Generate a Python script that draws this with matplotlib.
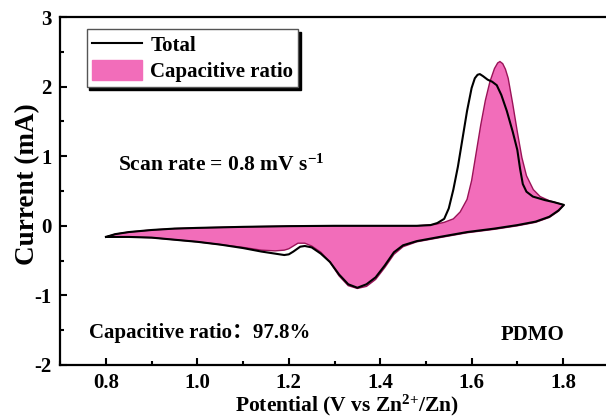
"""
CV curve of PDMO at 0.8 mV/s: total current vs capacitive contribution.
"""

import matplotlib
matplotlib.use("Agg")
import matplotlib.pyplot as plt
from matplotlib.lines import Line2D
from matplotlib.patches import Patch
from matplotlib.ticker import MultipleLocator

plt.rcParams["font.family"] = ["Liberation Serif", "Noto Sans CJK SC"]
plt.rcParams["font.weight"] = "bold"
plt.rcParams["axes.labelweight"] = "bold"
plt.rcParams["axes.unicode_minus"] = False
plt.rcParams["mathtext.fontset"] = "custom"
plt.rcParams["mathtext.rm"] = "Liberation Serif:bold"
plt.rcParams["mathtext.it"] = "Liberation Serif:bold"
plt.rcParams["mathtext.bf"] = "Liberation Serif:bold"

x_ticks = [0.8, 1.0, 1.2, 1.4, 1.6, 1.8]
x_tick_labels = ["0.8", "1.0", "1.2", "1.4", "1.6", "1.8"]
y_ticks = [-2, -1, 0, 1, 2, 3]
y_tick_labels = ["-2", "-1", "0", "1", "2", "3"]

# total current, anodic sweep (0.8 -> 1.8 V)
total_up_v = [0.80, 0.82, 0.85, 0.90, 0.95, 1.00, 1.10, 1.20, 1.30, 1.40, 1.48, 1.51,
              1.525, 1.54, 1.55, 1.56, 1.57, 1.58, 1.59, 1.60, 1.607, 1.613, 1.618,
              1.625, 1.635, 1.645, 1.655, 1.665, 1.677, 1.69, 1.70, 1.706, 1.712,
              1.72, 1.734, 1.76, 1.78, 1.802]
total_up_i = [-0.16, -0.12, -0.09, -0.06, -0.04, -0.03, -0.015, -0.005, 0.0, 0.0, 0.0, 0.01,
              0.04, 0.10, 0.25, 0.52, 0.85, 1.25, 1.65, 1.98, 2.12, 2.17, 2.18,
              2.15, 2.10, 2.07, 2.02, 1.88, 1.65, 1.35, 1.09, 0.82, 0.60,
              0.49, 0.42, 0.37, 0.34, 0.30]
# total current, cathodic sweep (1.8 -> 0.8 V)
total_dn_v = [1.802, 1.79, 1.77, 1.74, 1.70, 1.65, 1.59, 1.53, 1.48, 1.45, 1.43, 1.41,
              1.39, 1.37, 1.35, 1.33, 1.31, 1.29, 1.27, 1.25, 1.235, 1.225, 1.21,
              1.20, 1.19, 1.17, 1.14, 1.10, 1.05, 1.00, 0.95, 0.90, 0.85, 0.80]
total_dn_i = [0.30, 0.22, 0.13, 0.06, 0.01, -0.04, -0.09, -0.16, -0.22, -0.28, -0.38, -0.57,
              -0.74, -0.84, -0.89, -0.84, -0.70, -0.52, -0.40, -0.31, -0.29, -0.30, -0.37,
              -0.41, -0.42, -0.40, -0.37, -0.32, -0.27, -0.23, -0.20, -0.17, -0.16, -0.16]

# capacitive part, anodic sweep
cap_up_v = [0.80, 0.82, 0.85, 0.90, 0.95, 1.00, 1.10, 1.20, 1.30, 1.40, 1.48, 1.52,
            1.54, 1.56, 1.575, 1.59, 1.60, 1.61, 1.62, 1.63, 1.64, 1.65, 1.657, 1.662,
            1.668, 1.674, 1.68, 1.69, 1.70, 1.71, 1.72, 1.735, 1.75, 1.77, 1.802]
cap_up_i = [-0.16, -0.12, -0.09, -0.06, -0.04, -0.03, -0.015, -0.005, 0.0, 0.0, 0.0, 0.02,
            0.05, 0.10, 0.20, 0.38, 0.65, 1.05, 1.45, 1.80, 2.07, 2.26, 2.34, 2.36,
            2.33, 2.25, 2.12, 1.75, 1.35, 0.98, 0.72, 0.52, 0.42, 0.36, 0.30]
# capacitive part, cathodic sweep
cap_dn_v = [1.802, 1.79, 1.77, 1.74, 1.70, 1.65, 1.59, 1.53, 1.48, 1.45, 1.43, 1.41,
            1.39, 1.37, 1.35, 1.33, 1.31, 1.29, 1.27, 1.25, 1.235, 1.22, 1.21,
            1.20, 1.19, 1.17, 1.14, 1.10, 1.05, 1.00, 0.95, 0.90, 0.85, 0.80]
cap_dn_i = [0.30, 0.21, 0.12, 0.05, 0.0, -0.05, -0.10, -0.17, -0.23, -0.30, -0.41, -0.60,
            -0.77, -0.87, -0.90, -0.86, -0.72, -0.52, -0.38, -0.29, -0.25, -0.25, -0.29,
            -0.33, -0.35, -0.36, -0.35, -0.31, -0.27, -0.23, -0.20, -0.17, -0.16, -0.16]

PINK = "#f26dba"
EDGE = "#9a1358"

fig = plt.figure(figsize=(6.06, 4.18), dpi=100)
ax = fig.add_axes([0.0995, 0.1268, 0.905, 0.8325])

ax.fill(cap_up_v + cap_dn_v, cap_up_i + cap_dn_i, facecolor=PINK, edgecolor=EDGE, lw=1.0)
ax.plot(total_up_v + total_dn_v, total_up_i + total_dn_i, color="black", lw=1.5)

ax.set_xlim(0.7, 1.9)
ax.set_ylim(-2, 3)
ax.set_xticks(x_ticks)
ax.set_xticklabels(x_tick_labels, fontweight="bold", fontsize=15)
ax.set_yticks(y_ticks)
ax.set_yticklabels(y_tick_labels, fontweight="bold", fontsize=15)
ax.xaxis.set_minor_locator(MultipleLocator(0.1))
ax.yaxis.set_minor_locator(MultipleLocator(0.5))
ax.tick_params(which="both", direction="in", top=False, right=False, width=1.5)
ax.tick_params(which="major", length=5, pad=6)
ax.tick_params(which="minor", length=3)
for sp in ax.spines.values():
    sp.set_linewidth(1.6)

ax.set_xlabel("Potential (V vs Zn$^{\\mathrm{2{+}}}$/Zn)", fontsize=15.5)
ax.xaxis.set_label_coords(0.523, -0.08)
ax.set_ylabel("Current (mA)", fontsize=19.5)
ax.yaxis.set_label_coords(-0.036, 0.519)

handles = [Line2D([], [], color="black", lw=1.5), Patch(facecolor=PINK, edgecolor=PINK)]
ax.legend(handles, ["Total", "Capacitive ratio"], loc="upper left",
          bbox_to_anchor=(0.048, 0.965), borderaxespad=0, fontsize=15,
          fancybox=False, framealpha=1, edgecolor="#555555",
          shadow={"color": "black", "alpha": 1}, handlelength=2.4,
          handleheight=1.1, labelspacing=0.15, borderpad=0.25, handletextpad=0.4)

ax.text(0.105, 0.575, "Scan rate = 0.8 mV s$^{\\mathrm{-1}}$", transform=ax.transAxes,
        fontsize=15.5, va="center", ha="left")
ax.text(0.052, 0.092, "Capacitive ratio：97.8%", transform=ax.transAxes,
        fontsize=15, va="center", ha="left")
ax.text(0.802, 0.086, "PDMO", transform=ax.transAxes, fontsize=15, va="center", ha="left")

fig.savefig("out.png", dpi=100)
